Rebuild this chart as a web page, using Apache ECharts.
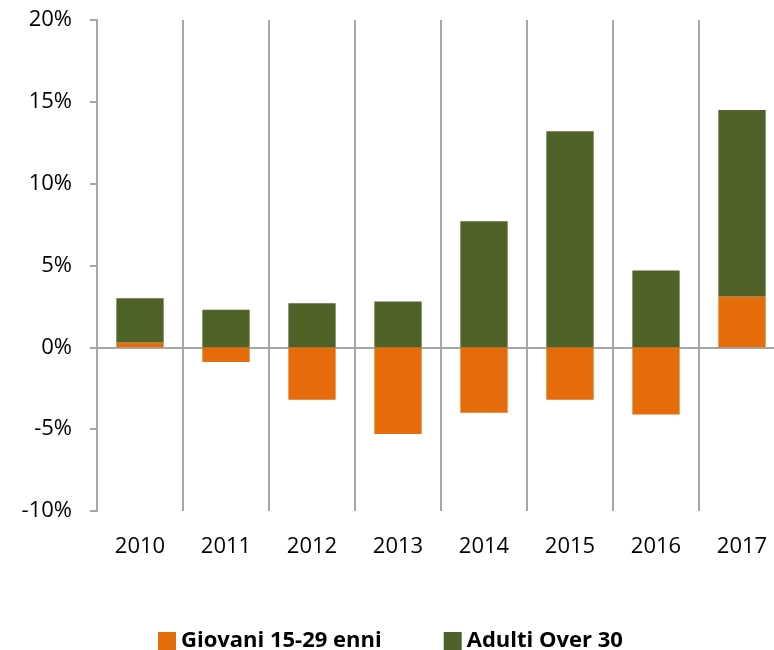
<!DOCTYPE html>
<html>
<head>
<meta charset="utf-8">
<script src="https://cdn.jsdelivr.net/npm/echarts@6/dist/echarts.min.js"></script>
<style>
    html, body { margin: 0; padding: 0; background: #fff; overflow: hidden; }
</style>
</head>
<body>
<!-- the original plot runs past the right edge, so the canvas is a bit wider than the window -->
<div id="chart" style="width: 785px; height: 650px;"></div>
<script>
const years = ['2010', '2011', '2012', '2013', '2014', '2015', '2016', '2017'];
const giovani = [0.3, -0.9, -3.2, -5.3, -4.0, -3.2, -4.1, 3.1];
const adulti = [2.7, 2.3, 2.7, 2.8, 7.7, 13.2, 4.7, 11.4];
const yTicks = [-10, -5, 0, 5, 10, 15, 20];

const myChart = echarts.init(document.getElementById('chart'));

const font = '"Open Sans", Lato, sans-serif';
const gray = '#a6a6a6';

const option = {
    animation: false,
    textStyle: { fontFamily: font },
    grid: {
        left: 97,
        right: 0,
        top: 20,
        bottom: 139
    },
    legend: {
        top: 625,
        left: 153,
        itemWidth: 18,
        itemHeight: 18,
        itemGap: 62,
        icon: 'rect',
        textStyle: {
            fontSize: 22,
            fontWeight: 'bold',
            color: '#000',
            fontFamily: font
        },
        data: ['Giovani 15-29 enni', 'Adulti Over 30']
    },
    xAxis: {
        type: 'category',
        data: years,
        axisLine: { onZero: true, lineStyle: { color: gray, width: 2 } },
        axisTick: { show: true, length: 8, lineStyle: { color: gray, width: 2 } },
        axisLabel: {
            color: '#000',
            fontSize: 22,
            margin: 25
        },
        splitLine: { show: true, lineStyle: { color: gray, width: 2 } }
    },
    yAxis: {
        type: 'value',
        min: yTicks[0],
        max: yTicks[yTicks.length - 1],
        interval: 5,
        axisLine: { show: true, lineStyle: { color: gray, width: 2 } },
        axisTick: { show: true, length: 7, lineStyle: { color: gray, width: 2 } },
        axisLabel: {
            color: '#000',
            fontSize: 22,
            margin: 25,
            formatter: '{value}%'
        },
        splitLine: { show: false }
    },
    series: [
        {
            name: 'Giovani 15-29 enni',
            type: 'bar',
            stack: 'tot',
            barWidth: '55%',
            data: giovani,
            itemStyle: { color: '#e46c0a' }
        },
        {
            name: 'Adulti Over 30',
            type: 'bar',
            stack: 'tot',
            barWidth: '55%',
            data: adulti,
            itemStyle: { color: '#4f6228' }
        }
    ]
};

myChart.setOption(option);
</script>
</body>
</html>
